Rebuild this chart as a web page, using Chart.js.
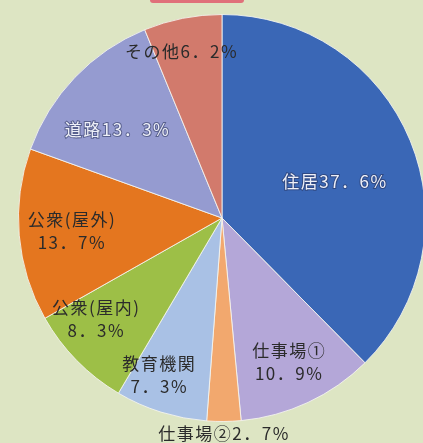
<!DOCTYPE html>
<html>
<head>
<meta charset="utf-8">
<script src="https://cdn.jsdelivr.net/npm/chart.js@4.4.0/dist/chart.umd.min.js"></script>
<style>
  html, body { margin: 0; padding: 0; width: 423px; height: 443px; overflow: hidden; background: #dde5c3; }
  #wrap { position: absolute; left: 0; top: 0; width: 444px; height: 443px; }
  #banner { position: absolute; left: 150px; top: 0; width: 94px; height: 3px; background: #e0707a; border-radius: 0 0 40px 40px; }
</style>
</head>
<body>
<div id="banner"></div>
<div id="wrap"><canvas id="pieChart"></canvas></div>
<script>
// categories and shares (%), clockwise from 12 o'clock
const categories = ['住居', '仕事場①', '仕事場②', '教育機関', '公衆(屋内)', '公衆(屋外)', '道路', 'その他'];
const shares = [37.6, 10.9, 2.7, 7.3, 8.3, 13.7, 13.3, 6.2];
const labelLines = [
    ['住居37．6%'],
    ['仕事場①', '10．9%'],
    ['仕事場②2．7%'],
    ['教育機関', '7．3%'],
    ['公衆(屋内)', '8．3%'],
    ['公衆(屋外)', '13．7%'],
    ['道路13．3%'],
    ['その他6．2%']
];

const sliceColors = ['#3a67b6', '#b4a7d8', '#f2a86e', '#a9c1e5', '#9dbf47', '#e4761f', '#959bd0', '#d27a6c'];
const lightText = [true, false, false, false, false, false, true, false];
// radius fraction along mid-angle, then pixel nudge
const labelLayout = [
    { rf: 0.6, dx: 0, dy: 10 },
    { rf: 0.78, dx: 0, dy: 0 },
    { rf: 1.06, dx: 0, dy: 0 },
    { rf: 0.83, dx: -12, dy: -4 },
    { rf: 0.81, dx: -8, dy: -14 },
    { rf: 0.76, dx: 4, dy: 0 },
    { rf: 0.67, dx: -6, dy: 6 },
    { rf: 0.85, dx: -7, dy: 3 }
];

const sliceLabels = {
    id: 'sliceLabels',
    afterDatasetsDraw(chart) {
        const ctx = chart.ctx;
        const arcs = chart.getDatasetMeta(0).data;
        ctx.save();
        ctx.font = '17px "Noto Sans CJK JP", "Noto Sans", sans-serif';
        ctx.letterSpacing = '1.5px';
        ctx.textAlign = 'center';
        ctx.textBaseline = 'middle';
        arcs.forEach((arc, i) => {
            const mid = (arc.startAngle + arc.endAngle) / 2;
            const r = arc.outerRadius * labelLayout[i].rf;
            const x = arc.x + Math.cos(mid) * r + labelLayout[i].dx;
            const y = arc.y + Math.sin(mid) * r + labelLayout[i].dy;
            const lines = labelLines[i];
            const lh = 23;
            lines.forEach((t, k) => {
                const ly = y + (k - (lines.length - 1) / 2) * lh;
                if (lightText[i]) {
                    ctx.lineWidth = 2;
                    ctx.strokeStyle = 'rgba(40,50,90,0.55)';
                    ctx.strokeText(t, x, ly);
                    ctx.fillStyle = '#eef0f8';
                } else {
                    ctx.fillStyle = '#2b2b2b';
                }
                ctx.fillText(t, x, ly);
            });
        });
        ctx.restore();
    }
};

const ctx = document.getElementById('pieChart').getContext('2d');
new Chart(ctx, {
    type: 'pie',
    data: {
        labels: categories,
        datasets: [{
            data: shares,
            backgroundColor: function(c) {
                const arc = c.element;
                const base = sliceColors[c.dataIndex];
                if (!arc || !arc.outerRadius) return base;
                const g = c.chart.ctx.createRadialGradient(arc.x, arc.y, 0, arc.x, arc.y, arc.outerRadius);
                g.addColorStop(0, base);
                g.addColorStop(0.85, base);
                g.addColorStop(1, shade(base, -0.18));
                return g;
            },
            borderColor: 'rgba(245,245,240,0.85)',
            borderWidth: 1
        }]
    },
    options: {
        responsive: true,
        maintainAspectRatio: false,
        animation: false,
        layout: { padding: { left: 14, right: 14, top: 14, bottom: 21 } },
        plugins: {
            legend: { display: false },
            tooltip: { enabled: false }
        }
    },
    plugins: [sliceLabels]
});

function shade(hex, amt) {
    const n = parseInt(hex.slice(1), 16);
    let r = (n >> 16) & 255, g = (n >> 8) & 255, b = n & 255;
    r = Math.round(r * (1 + amt)); g = Math.round(g * (1 + amt)); b = Math.round(b * (1 + amt));
    return `rgb(${r},${g},${b})`;
}
</script>
</body>
</html>
